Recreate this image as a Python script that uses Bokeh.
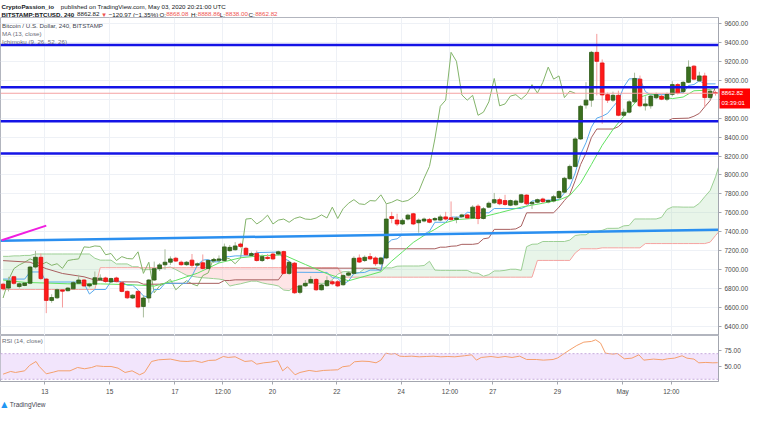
from bokeh.plotting import figure
from bokeh.layouts import column
from bokeh.models import (Range1d, FixedTicker, NumeralTickFormatter, Label, Span, BoxAnnotation,
                          Grid, LinearAxis)
from bokeh.embed import file_html
from bokeh.resources import INLINE
from bokeh.core.properties import value

FONT = "Liberation Sans"

# ---------------- data ----------------
open_ = [6846, 6805, 6925, 6822, 6832, 6856, 7027, 7130, 6900, 6675,
         6702, 6785, 6777, 6797, 6856, 6890, 6828, 6846, 6893, 6912,
         6870, 6912, 6860, 6770, 6700, 6770, 6610, 6700, 6890, 7010,
         7051, 7078, 7120, 7078, 7052, 7100, 7047, 7072, 7013, 7092,
         7098, 7096, 7200, 7210, 7270, 7225, 7150, 7171, 7096, 7130,
         7164, 7164, 7190, 6960, 7068, 6760, 6828, 6862, 6896, 6787,
         6830, 6872, 6872, 6840, 6941, 6960, 7123, 7096, 7137, 7123,
         7061, 7123, 7560, 7523, 7482, 7534, 7590, 7495, 7513, 7530,
         7525, 7523, 7557, 7547, 7530, 7558, 7578, 7545, 7670, 7540,
         7660, 7705, 7739, 7729, 7680, 7685, 7711, 7787, 7695, 7711,
         7746, 7715, 7725, 7760, 7818, 7960, 8090, 8380, 8738, 8790,
         9295, 9183, 8848, 8790, 8841, 8630, 8663, 8772, 9012, 8730,
         8730, 8815, 8831, 8800, 8851, 8954, 8880, 8978, 9149, 8995,
         9046, 8817, 8868.08]
high = [6860, 6924, 6935, 6865, 6870, 7040, 7198, 7170, 6910, 6740,
        6800, 6795, 6815, 6880, 6945, 6900, 6860, 6980, 6950, 6925,
        6915, 6925, 6880, 6780, 6740, 6785, 6730, 6900, 7085, 7070,
        7215, 7140, 7135, 7095, 7090, 7165, 7075, 7160, 7110, 7120,
        7150, 7275, 7260, 7290, 7285, 7240, 7190, 7200, 7160, 7165,
        7180, 7200, 7200, 7090, 7080, 6840, 6890, 6930, 6910, 6850,
        6930, 6890, 6890, 6950, 6985, 7140, 7160, 7150, 7175, 7140,
        7135, 7700, 7610, 7590, 7540, 7590, 7600, 7540, 7550, 7545,
        7555, 7580, 7610, 7720, 7560, 7590, 7590, 7680, 7690, 7660,
        7720, 7810, 7760, 7790, 7740, 7740, 7800, 7795, 7720, 7750,
        7760, 7740, 7790, 7840, 7980, 8110, 8400, 8740, 8980, 9310,
        9490, 9220, 8870, 8880, 8890, 8700, 8790, 9080, 9050, 8830,
        8850, 8870, 8850, 8870, 8990, 8970, 8990, 9210, 9160, 9090,
        9080, 8900, 8888.86]
low = [6780, 6770, 6840, 6800, 6825, 6845, 7010, 6890, 6540, 6650,
       6690, 6600, 6770, 6790, 6850, 6815, 6810, 6840, 6880, 6860,
       6860, 6865, 6760, 6690, 6690, 6590, 6495, 6650, 6880, 6985,
       7000, 7050, 7080, 7040, 7040, 7020, 7035, 7000, 7005, 7070,
       7085, 7085, 7190, 7200, 7230, 7150, 7140, 7085, 7080, 7105,
       7100, 7150, 6950, 6945, 6745, 6740, 6815, 6850, 6775, 6780,
       6820, 6835, 6815, 6830, 6930, 6950, 7070, 7080, 7100, 7040,
       7050, 7110, 7490, 7460, 7470, 7520, 7470, 7390, 7500, 7490,
       7510, 7510, 7520, 7515, 7490, 7550, 7540, 7535, 7480, 7530,
       7650, 7695, 7680, 7675, 7670, 7675, 7700, 7680, 7640, 7700,
       7700, 7700, 7710, 7750, 7810, 7950, 8080, 8370, 8700, 8720,
       8840, 8540, 8760, 8770, 8620, 8615, 8650, 8760, 8715, 8680,
       8700, 8800, 8790, 8780, 8830, 8850, 8870, 8970, 9000, 8980,
       8715, 8790, 8838.00]
close = [6797, 6880, 6855, 6850, 6858, 7027, 7130, 6905, 6675, 6705,
         6787, 6772, 6805, 6862, 6890, 6828, 6848, 6914, 6910, 6875,
         6905, 6876, 6770, 6702, 6730, 6605, 6700, 6890, 7010, 7050,
         7078, 7113, 7090, 7052, 7078, 7045, 7062, 7013, 7096, 7106,
         7113, 7240, 7235, 7250, 7245, 7157, 7170, 7096, 7137, 7117,
         7113, 7188, 6960, 7078, 6755, 6828, 6855, 6896, 6787, 6838,
         6883, 6850, 6828, 6937, 6965, 7119, 7080, 7130, 7113, 7062,
         7123, 7534, 7540, 7482, 7520, 7575, 7482, 7523, 7534, 7500,
         7540, 7557, 7534, 7530, 7545, 7578, 7545, 7660, 7540, 7643,
         7701, 7739, 7695, 7688, 7729, 7725, 7790, 7695, 7711, 7739,
         7718, 7730, 7770, 7825, 7965, 8090, 8380, 8725, 8790, 9295,
         9200, 8845, 8790, 8841, 8630, 8663, 8772, 9019, 8730, 8750,
         8833, 8848, 8800, 8851, 8954, 8865, 8978, 9139, 9012, 9046,
         8817, 8885, 8862.82]

# MA (13, close), read at sample bars
ma_bar = [0, 4, 8, 12, 18, 24, 28, 32, 36, 40, 44, 48, 52, 56, 60, 64, 68, 70, 72, 74,
          76, 78, 80, 82, 84, 88, 92, 96, 100, 103, 105, 107, 109, 111, 113, 116, 118,
          120, 122, 124, 126, 128, 130, 132]
ma_val = [6890, 6865, 6858, 6850, 6849, 6840, 6826, 6886, 6962, 7070, 7125, 7148, 7155,
          7054, 6957, 6882, 6945, 6978, 7090, 7187, 7287, 7361, 7425, 7496, 7528, 7544,
          7601, 7660, 7701, 7735, 7783, 7913, 8110, 8313, 8480, 8691, 8822, 8858, 8825,
          8806, 8823, 8889, 8894, 8915]

# Ichimoku conversion line (9)
tenkan_bar = [0, 4, 5, 7, 8, 14, 15, 16, 17, 19, 20, 21, 22, 23, 24, 25, 26, 27, 28, 29,
              30, 34, 35, 36, 37, 38, 39, 40, 41, 42, 43, 45, 46, 47, 51, 52, 53, 54, 60,
              61, 62, 63, 64, 65, 66, 67, 68, 70, 71, 72, 73, 74, 78, 79, 80, 82, 83, 85,
              86, 88, 90, 91, 96, 97, 98, 103, 104, 105, 106, 107, 108, 109, 110, 111, 112,
              113, 114, 115, 116, 118, 119, 120, 123, 124, 125, 126, 127, 128, 129, 130, 132]
tenkan_val = [6900, 6900, 6975, 6975, 6869, 6869, 6855, 6742, 6790, 6790, 6875, 6885, 6870,
              6835, 6835, 6785, 6722, 6710, 6790, 6790, 6855, 6855, 6932, 7047, 7100, 7107,
              7082, 7082, 7137, 7137, 7145, 7145, 7147, 7180, 7185, 7117, 7092, 6972, 6970,
              6915, 6910, 6845, 6880, 6957, 6967, 6970, 6995, 6995, 7265, 7315, 7325, 7370,
              7375, 7405, 7500, 7500, 7555, 7555, 7605, 7600, 7600, 7645, 7645, 7670, 7725,
              7740, 7810, 7875, 8020, 8220, 8340, 8505, 8600, 8620, 8650, 8720, 8785, 8930,
              9015, 9015, 8880, 8848, 8848, 8865, 8880, 8865, 8945, 8955, 8995, 8962, 8962]

# Ichimoku base line (26)
kijun_bar = [0, 5, 8, 11, 15, 17, 21, 25, 26, 29, 30, 40, 41, 42, 43, 51, 52, 53, 54, 55,
             68, 69, 70, 71, 80, 81, 82, 83, 84, 85, 87, 88, 89, 90, 91, 94, 95, 96, 97,
             102, 103, 104, 105, 106, 107, 108, 109, 110, 113, 114, 115, 123, 124, 127,
             128, 129, 130, 131, 132]
kijun_val = [7095, 7078, 7010, 6959, 6924, 6890, 6872, 6869, 6846, 6846, 6855, 6855, 6885,
             6885, 6892, 6892, 6970, 7085, 7017, 7015, 7015, 7012, 6990, 7220, 7220, 7237,
             7237, 7247, 7250, 7267, 7267, 7275, 7325, 7335, 7425, 7425, 7430, 7460, 7600,
             7600, 7660, 7730, 7795, 7940, 8110, 8230, 8395, 8485, 8485, 8510, 8565, 8565,
             8595, 8600, 8620, 8650, 8720, 8785, 8930]

# Leading span A / B per bar (bars 0..133, cloud runs one bar past the last candle)
span_a = [7140, 7140, 7145, 7145, 7150, 7150,
          7165, 7165, 7165, 7165, 7165, 7165, 7165, 7165, 7165, 7165, 7165,
          7120, 7100, 7100, 7100, 7060, 7060, 7060, 7030, 7030,
          6998, 7000, 7005, 7010, 7020, 7027, 7000, 6970, 6940, 6930, 6920, 6914, 6910, 6905, 6900, 6890,
          6826, 6840, 6850, 6865, 6878, 6878, 6860, 6848, 6840, 6827, 6784, 6778, 6818, 6818,
          6855, 6855, 6855, 6855, 6855, 6893, 6951, 6978, 6981, 6968, 6968, 7011, 7011, 7018, 7018, 7018, 7018,
          7036, 7038, 7038, 7038, 7038, 7043, 7088, 6995, 6992, 6992, 6992, 6992, 6992, 6992,
          6965, 6962, 6930, 6947, 6986, 6986, 6992, 7004, 7004, 6992,
          7242, 7268, 7270, 7297, 7297, 7297, 7297, 7297, 7312, 7360, 7368, 7368, 7405, 7405, 7415,
          7436, 7436, 7437, 7462, 7467, 7535, 7535, 7535, 7535, 7535, 7552, 7635, 7662, 7662,
          7660, 7660, 7660, 7700, 7770, 7835, 7980, 8165]
span_b = [6790, 6790, 6790, 6790, 6790, 6790, 6790, 6790, 6790, 6790, 6790, 6790, 6790, 6790,
          6790, 6790, 6790, 6790,
          7020, 7020, 7020, 7020, 7020, 7020, 7020, 7020, 7020, 7020, 7020, 7020, 7020, 7020,
          7020, 7020, 7020, 7020, 7020, 7020, 7020, 7020, 7020, 7020, 7020, 7020, 7020, 7020,
          7020, 7020, 7020, 7020, 7020, 7020, 7020, 7020, 7020, 7020, 7020, 7020, 7020, 7020,
          7020, 7020, 7020,
          6920, 6920, 6920, 6920, 6920, 6920, 6920, 6920, 6920, 6920, 6920, 6920, 6920, 6920,
          6920, 6920, 6920, 6920, 6920, 6920, 6920, 6920, 6920, 6920, 6920, 6920, 6920, 6920,
          6920, 6920, 6920, 6920, 6920, 6920, 6920, 6920,
          7097, 7097, 7097, 7097, 7097, 7097, 7097,
          7175, 7220, 7220, 7220, 7220,
          7230, 7230, 7230, 7230, 7230, 7230, 7230, 7230,
          7275, 7275, 7275, 7275, 7275, 7275, 7275, 7275, 7275, 7275, 7275, 7275,
          7290, 7360, 7425, 7570, 7740]

# RSI (14, close), read at sample positions (bar units)
rsi_bar = [0.0, 1.4, 2.3, 4.0, 4.9, 6.1, 6.7, 8.0, 9.3, 10.2, 12.4, 13.8, 15.1, 16.4, 17.3,
           18.6, 20.0, 21.3, 22.6, 23.9, 25.3, 26.2, 27.5, 28.8, 31.0, 32.8, 34.1, 35.5, 36.8,
           38.1, 39.4, 40.8, 41.7, 43.0, 44.8, 46.1, 47.0, 48.3, 49.6, 50.9, 51.8, 52.7, 54.1,
           55.0, 56.7, 58.0, 59.4, 60.7, 62.0, 62.9, 64.2, 65.1, 66.5, 67.8, 69.1, 70.0, 70.9,
           71.9, 72.6, 73.5, 74.4, 75.7, 77.1, 78.4, 79.7, 81.1, 82.4, 83.7, 85.5, 86.8, 87.7,
           88.6, 90.4, 91.7, 93.0, 94.3, 95.7, 97.0, 98.8, 100.1, 101.9, 102.8, 103.6, 105.0,
           106.3, 107.6, 109.0, 109.8, 110.7, 111.6, 113.0, 113.8, 115.1, 116.5, 117.8, 118.7,
           120.5, 122.2, 123.1, 124.4, 125.8, 126.7, 128.0, 128.9, 130.2, 131.5, 132.4]
rsi_val = [38.0, 42.2, 40.6, 43.2, 51.6, 57.8, 50.0, 38.5, 41.1, 43.2, 43.2, 48.4, 46.4, 48.4,
           51.0, 50.0, 50.0, 47.4, 40.6, 43.2, 37.0, 40.6, 57.8, 60.4, 61.5, 58.3, 57.8, 58.9,
           56.3, 59.4, 59.9, 65.6, 64.1, 65.1, 57.8, 58.9, 53.6, 55.7, 56.8, 58.9, 43.2, 49.5,
           37.0, 40.6, 43.8, 42.2, 43.8, 44.3, 44.8, 49.5, 51.0, 57.3, 58.3, 57.8, 55.7, 59.9,
           70.8, 69.3, 70.3, 66.1, 65.6, 66.1, 65.1, 65.6, 66.1, 65.1, 65.6, 65.1, 66.7, 68.2,
           59.9, 64.1, 65.6, 64.1, 65.6, 64.1, 66.1, 60.9, 60.9, 59.9, 60.9, 63.5, 68.2, 76.0,
           82.8, 88.0, 89.1, 91.7, 86.5, 70.8, 69.3, 70.3, 62.0, 63.0, 68.2, 59.9, 61.5, 60.4,
           62.0, 63.0, 66.7, 63.0, 61.5, 55.7, 56.3, 55.7, 55.9]

# user drawings
hlines = [9372, 8926, 8566, 8227]
trend_bar = [-0.48, 132.55]
trend_val = [7305, 7420]
magenta_bar = [-0.25, 8.0]
magenta_val = [7310, 7465]
last_price = 8862.82
countdown = "03:39:01"

price_ticks = [6400, 6600, 6800, 7000, 7200, 7400, 7600, 7800, 8000, 8200, 8400,
               8600, 8800, 9000, 9200, 9400, 9600]
time_tick_bar = [7.74, 19.75, 31.85, 40.7, 49.9, 61.84, 73.76, 82.8, 90.74, 102.7, 114.8, 123.8]
time_tick_label = ["13", "15", "17", "12:00", "20", "22", "24", "12:00", "27", "29", "May", "12:00"]

# ---------------- styling ----------------
FRAME_W = 718
MAIN_H = 318
Y0, Y1 = 6304, 9663
GRID = "#eef1f6"
AX = "#a3a6af"
LBL = "#4a4a4a"
RED = "#ef5350"

x_rng = Range1d(-0.48, 132.55)


def style_axis(ax):
    ax.axis_line_color = AX
    ax.major_tick_line_color = AX
    ax.minor_tick_line_color = None
    ax.major_tick_out = 3
    ax.major_tick_in = 0
    ax.major_label_text_font = FONT
    ax.major_label_text_font_size = "6.5px"
    ax.major_label_text_color = LBL
    ax.major_label_standoff = 3


# ---------------- header ----------------
hdr = figure(width=752, height=17, x_range=Range1d(0, 752), y_range=Range1d(17, 0),
             toolbar_location=None, output_backend="svg", x_axis_location=None,
             y_axis_location=None, min_border=0, outline_line_color=None)
hdr.grid.visible = False
HFS = "6.2px"
hdr.text(x=[1, 1], y=[5.5, 13.5], text=["CryptoPassion_io", "BITSTAMP:BTCUSD, 240"],
         text_font=value(FONT), text_font_size=HFS, text_font_style="bold",
         text_color="#131722", text_baseline="middle")
hdr.text(x=[63, 80, 113, 166, 199, 229, 259],
         y=[5.5, 13.5, 13.5, 13.5, 13.5, 13.5, 13.5],
         text=["published on TradingView.com, May 03, 2020 20:21:00 UTC", "8862.82",
               "\u2212120.97 (\u22121.35%)", "O:", "H:", "L:", "C:"],
         text_font=value(FONT), text_font_size=HFS, text_color="#131722",
         text_baseline="middle")
hdr.text(x=[105, 173, 206, 235, 266], y=[13.5] * 5,
         text=["\u25bc", "8868.08", "8888.86", "8838.00", "8862.82"],
         text_font=value(FONT), text_font_size=HFS, text_color=RED,
         text_baseline="middle")

# ---------------- main price pane ----------------
main = figure(frame_width=FRAME_W, frame_height=MAIN_H, x_range=x_rng, y_range=Range1d(Y0, Y1),
              x_axis_location=None, y_axis_location="right", toolbar_location=None,
              output_backend="svg", min_border_left=0, min_border_right=0,
              min_border_top=0, min_border_bottom=0)
main.grid.visible = False
main.outline_line_color = "#b2b5be"
main.add_layout(Grid(dimension=0, ticker=FixedTicker(ticks=time_tick_bar), grid_line_color=GRID))
main.add_layout(Grid(dimension=1, ticker=FixedTicker(ticks=price_ticks), grid_line_color=GRID))
main.yaxis.ticker = FixedTicker(ticks=price_ticks)
main.yaxis.formatter = NumeralTickFormatter(format="0.00")
style_axis(main.yaxis[0])

cloud_bar = list(range(len(span_a)))
upper = [max(a, b) for a, b in zip(span_a, span_b)]
main.varea(x=cloud_bar, y1=span_b, y2=upper, fill_color="#a5d6a7", fill_alpha=0.25)
main.varea(x=cloud_bar, y1=span_a, y2=upper, fill_color="#faa1a4", fill_alpha=0.28)
main.line(cloud_bar, span_a, line_color="#9ccf94", line_width=1)
main.line(cloud_bar, span_b, line_color="#f5a3a0", line_width=1)

bars = list(range(len(close)))
lag_shift = 26
main.line(bars[:-lag_shift], close[lag_shift:], line_color="#83b46a", line_width=1)
main.line(kijun_bar, kijun_val, line_color="#a85f5f", line_width=1)
main.line(tenkan_bar, tenkan_val, line_color="#58aaee", line_width=1)
main.line(ma_bar, ma_val, line_color="#62e262", line_width=1)

up = [c >= o for o, c in zip(open_, close)]
wick_col = ["#a9bc9d" if u else "#f59a9a" for u in up]
body_col = ["#3a6f1f" if u else "#ff1a1a" for u in up]
edge_col = ["#2c5a16" if u else "#e01010" for u in up]
main.segment(x0=bars, y0=low, x1=bars, y1=high, line_color=wick_col, line_width=1)
main.vbar(x=bars, width=0.7, top=[max(o, c) for o, c in zip(open_, close)],
          bottom=[min(o, c) for o, c in zip(open_, close)],
          fill_color=body_col, line_color=edge_col, line_width=0.8)

main.add_layout(Span(location=last_price, dimension="width", line_color="#f5a3a3", line_width=1))
for lvl in hlines:
    main.add_layout(Span(location=lvl, dimension="width", line_color="#1414e6", line_width=2.5))
main.line(trend_bar, trend_val, line_color="#2a8ff0", line_width=2.5)
main.line(magenta_bar, magenta_val, line_color="#f01ee0", line_width=2)

legend_lines = [("Bitcoin / U.S. Dollar, 240, BITSTAMP", 9580, "#434651"),
                ("MA (13, close)", 9495, "#6a6d78"),
                ("Ichimoku (9, 26, 52, 26)", 9410, "#6a6d78")]
for txt, yv, col in legend_lines:
    main.add_layout(Label(x=-0.2, y=yv, text=txt, text_font=FONT, text_font_size="6.2px",
                          text_color=col, text_baseline="middle"))

# last-price tag on the price scale: an extra right axis whose two thick red ticks
# reach back over the price labels and carry the price and the bar countdown
px_per_row = (Y1 - Y0) / MAIN_H * 10
tag_ticks = [last_price, last_price - px_per_row]
tag_axis = LinearAxis(ticker=FixedTicker(ticks=tag_ticks),
                      major_label_overrides={tag_ticks[0]: "8862.82", tag_ticks[1]: countdown})
tag_axis.axis_line_color = None
tag_axis.minor_tick_line_color = None
tag_axis.major_tick_line_color = "#ff0000"
tag_axis.major_tick_line_width = 10
tag_axis.major_tick_in = 31
tag_axis.major_tick_out = 0
tag_axis.major_label_standoff = -29
tag_axis.major_label_text_color = "white"
tag_axis.major_label_text_font = FONT
tag_axis.major_label_text_font_size = "6px"
main.add_layout(tag_axis, "right")

# ---------------- RSI pane ----------------
rsi = figure(frame_width=FRAME_W, frame_height=46, x_range=x_rng, y_range=Range1d(26.5, 98.4),
             y_axis_location="right", toolbar_location=None, output_backend="svg",
             min_border_left=0, min_border_right=0, min_border_top=0, min_border_bottom=0)
rsi.grid.visible = False
rsi.outline_line_color = "#b2b5be"
rsi.add_layout(Grid(dimension=0, ticker=FixedTicker(ticks=time_tick_bar), grid_line_color=GRID))
rsi.add_layout(BoxAnnotation(bottom=30, top=70, fill_color="#f2e5fc", fill_alpha=1,
                             line_color=None, level="underlay"))
rsi.add_layout(Span(location=70, dimension="width", line_color="#c6aadd", line_dash="2 2", line_width=1))
rsi.add_layout(Span(location=30, dimension="width", line_color="#c6aadd", line_dash="2 2", line_width=1))
rsi.line(rsi_bar, rsi_val, line_color="#f4a06c", line_width=1)
rsi.yaxis.ticker = FixedTicker(ticks=[50, 75])
rsi.yaxis.formatter = NumeralTickFormatter(format="0.00")
style_axis(rsi.yaxis[0])
rsi.xaxis.ticker = FixedTicker(ticks=time_tick_bar)
rsi.xaxis.major_label_overrides = {t: l for t, l in zip(time_tick_bar, time_tick_label)}
style_axis(rsi.xaxis[0])
rsi.add_layout(Label(x=-0.2, y=91, text="RSI (14, close)", text_font=FONT, text_font_size="6.2px",
                     text_color="#6a6d78", text_baseline="middle"))

# ---------------- footer ----------------
ftr = figure(width=200, height=13, x_range=Range1d(0, 200), y_range=Range1d(13, 0),
             toolbar_location=None, output_backend="svg", x_axis_location=None,
             y_axis_location=None, min_border=0, outline_line_color=None)
ftr.grid.visible = False
ftr.text(x=[1], y=[7], text=["\u25b2"], text_font=value("DejaVu Sans"), text_font_size="8px",
         text_color="#2196f3", text_baseline="middle")
ftr.text(x=[11], y=[7], text=["TradingView"], text_font=value(FONT), text_font_size="6.5px",
         text_color="#434651", text_baseline="middle")

layout = column(hdr, main, rsi, ftr)
open("out.html", "w").write(file_html(layout, INLINE))
